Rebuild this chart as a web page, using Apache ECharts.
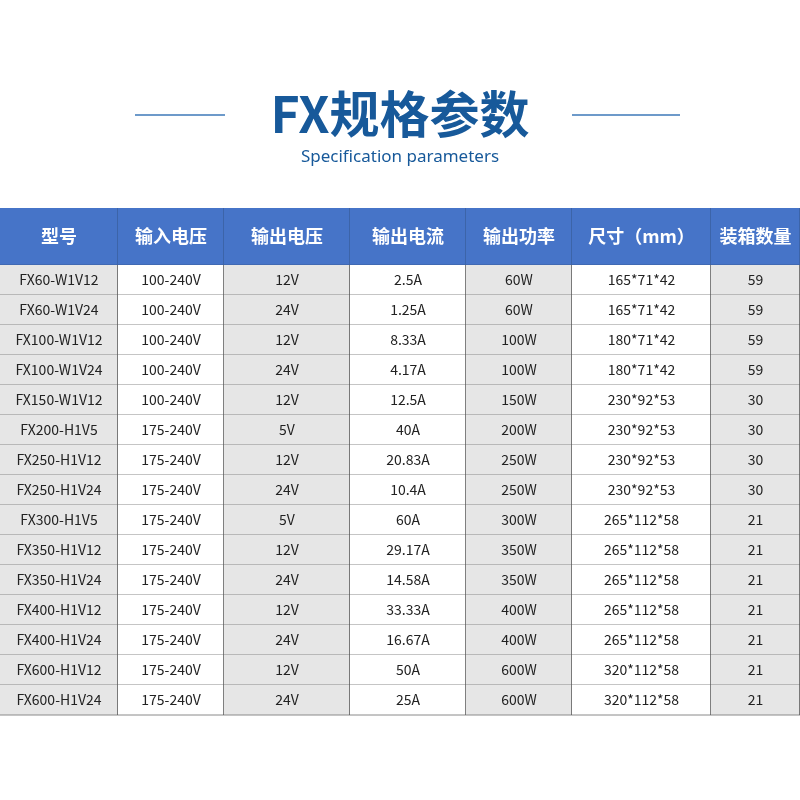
<!DOCTYPE html>
<html><head><meta charset="utf-8">
<script src="https://cdn.jsdelivr.net/npm/echarts@6/dist/echarts.min.js"></script>
<style>html,body{margin:0;background:#fff}#chart{width:800px;height:800px}</style>
</head><body><div id="chart"></div>
<script>
const headers = ['型号', '输入电压', '输出电压', '输出电流', '输出功率', '尺寸（mm）', '装箱数量'];
const models = ['FX60-W1V12', 'FX60-W1V24', 'FX100-W1V12', 'FX100-W1V24', 'FX150-W1V12', 'FX200-H1V5', 'FX250-H1V12', 'FX250-H1V24', 'FX300-H1V5', 'FX350-H1V12', 'FX350-H1V24', 'FX400-H1V12', 'FX400-H1V24', 'FX600-H1V12', 'FX600-H1V24'];
const inputVoltage = ['100-240V', '100-240V', '100-240V', '100-240V', '100-240V', '175-240V', '175-240V', '175-240V', '175-240V', '175-240V', '175-240V', '175-240V', '175-240V', '175-240V', '175-240V'];
const outputVoltage = ['12V', '24V', '12V', '24V', '12V', '5V', '12V', '24V', '5V', '12V', '24V', '12V', '24V', '12V', '24V'];
const outputCurrent = ['2.5A', '1.25A', '8.33A', '4.17A', '12.5A', '40A', '20.83A', '10.4A', '60A', '29.17A', '14.58A', '33.33A', '16.67A', '50A', '25A'];
const outputPower = ['60W', '60W', '100W', '100W', '150W', '200W', '250W', '250W', '300W', '350W', '350W', '400W', '400W', '600W', '600W'];
const sizes = ['165*71*42', '165*71*42', '180*71*42', '180*71*42', '230*92*53', '230*92*53', '230*92*53', '230*92*53', '265*112*58', '265*112*58', '265*112*58', '265*112*58', '265*112*58', '320*112*58', '320*112*58'];
const boxQty = ['59', '59', '59', '59', '30', '30', '30', '30', '21', '21', '21', '21', '21', '21', '21'];

const columns = [models, inputVoltage, outputVoltage, outputCurrent, outputPower, sizes, boxQty];
// layout: column edges (x) and row edges (y, header taller)
const colEdges = [0, 118, 224, 350, 466, 572, 711, 800];
const rowEdges = [0, 57];
for (let i = 1; i <= models.length; i++) rowEdges.push(57 + 30 * i);

const cells = [];
headers.forEach((h, c) => cells.push([c, 0, h]));
columns.forEach((col, c) => col.forEach((v, r) => cells.push([c, r + 1, v])));

const chart = echarts.init(document.getElementById('chart'));

function renderCell(params, api) {
  const c = api.value(0);
  const r = api.value(1);
  const p0 = api.coord([colEdges[c], rowEdges[r]]);
  const p1 = api.coord([colEdges[c + 1], rowEdges[r + 1]]);
  const isHead = r === 0;
  const fill = isHead ? '#4674c8' : (c % 2 === 0 ? '#e6e6e6' : '#ffffff');
  return {
    type: 'group',
    children: [
      {
        type: 'rect',
        shape: { x: p0[0], y: p0[1], width: p1[0] - p0[0], height: p1[1] - p0[1] },
        style: { fill: fill }
      },
      {
        type: 'text',
        x: (p0[0] + p1[0]) / 2,
        y: (p0[1] + p1[1]) / 2,
        style: {
          text: cells[params.dataIndex][2],
          fill: isHead ? '#ffffff' : '#222222',
          fontSize: isHead ? 18 : 14,
          fontWeight: isHead ? 'bold' : 'normal',
          fontFamily: '"Noto Sans CJK SC", "Noto Sans", sans-serif',
          align: 'center',
          verticalAlign: 'middle'
        }
      },
      {
        type: 'line',
        shape: { x1: p0[0], y1: p1[1], x2: p1[0], y2: p1[1] },
        style: { stroke: isHead ? '#3a5f9f' : '#8a8a8a', lineWidth: 1 }
      },
      {
        type: 'line',
        shape: { x1: p1[0], y1: p0[1], x2: p1[0], y2: p1[1] },
        style: { stroke: isHead ? '#3a5f9f' : '#555555', lineWidth: 1.5 }
      }
    ]
  };
}

chart.setOption({
  backgroundColor: '#ffffff',
  animation: false,
  title: {
    text: 'FX规格参数',
    subtext: 'Specification parameters',
    left: 'center',
    top: 84,
    itemGap: 10,
    textStyle: { color: '#17599a', fontSize: 50, fontWeight: 'bold', fontFamily: '"Noto Sans CJK SC", sans-serif' },
    subtextStyle: { color: '#17599a', fontSize: 17, fontFamily: '"Noto Sans", sans-serif' }
  },
  graphic: [
    { type: 'line', shape: { x1: 135, y1: 115, x2: 225, y2: 115 }, style: { stroke: '#3d78b8', lineWidth: 1.5 } },
    { type: 'line', shape: { x1: 572, y1: 115, x2: 680, y2: 115 }, style: { stroke: '#3d78b8', lineWidth: 1.5 } }
  ],
  grid: { left: 0, right: 0, top: 208, bottom: 800 - 208 - rowEdges[rowEdges.length - 1] },
  xAxis: { type: 'value', min: 0, max: 800, show: false },
  yAxis: { type: 'value', min: 0, max: rowEdges[rowEdges.length - 1], inverse: true, show: false },
  series: [{
    type: 'custom',
    renderItem: renderCell,
    data: cells.map(d => [d[0], d[1]])
  }]
});
</script></body></html>
